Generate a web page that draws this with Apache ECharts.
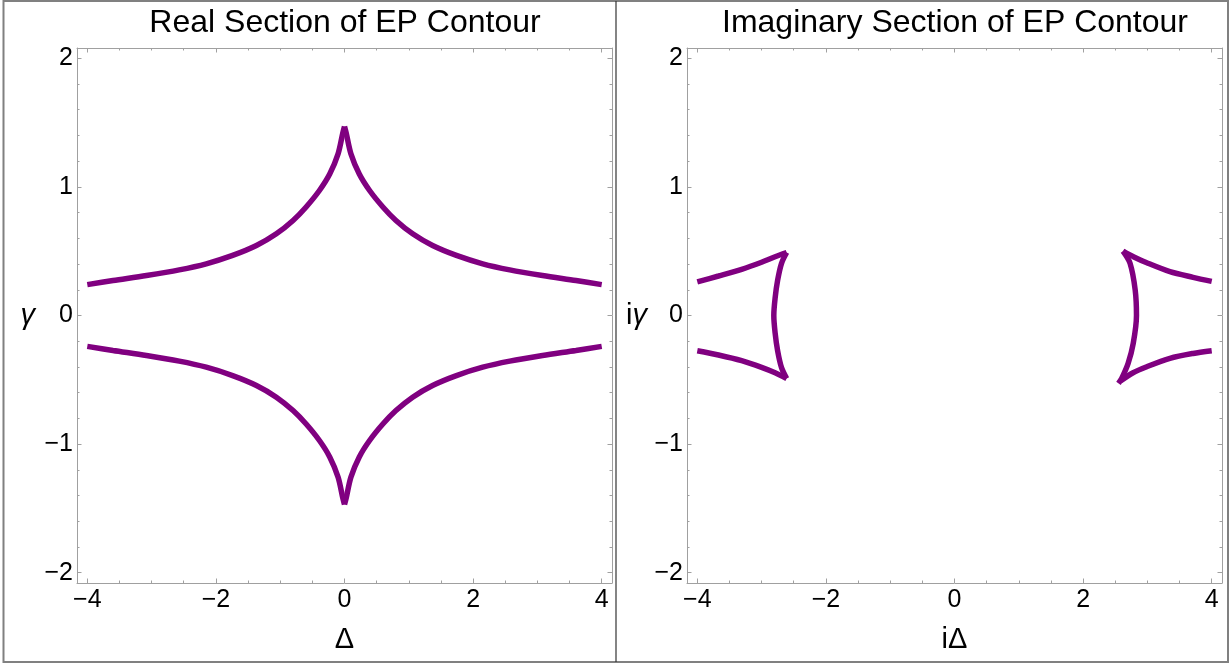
<!DOCTYPE html>
<html>
<head>
<meta charset="utf-8">
<script src="https://cdn.jsdelivr.net/npm/echarts@6/dist/echarts.min.js"></script>
<style>
html,body{margin:0;padding:0;background:#fff;}
#c{width:1231px;height:665px;}
</style>
</head>
<body>
<div id="c"></div>
<script>
// ---- tick labels / tick positions ----
const xMajor = [-4, -2, 0, 2, 4];
const xMinor = [-3.5, -3, -2.5, -1.5, -1, -0.5, 0.5, 1, 1.5, 2.5, 3, 3.5];
const yMajor = [-2, -1, 0, 1, 2];
const yMinor = [-1.8, -1.6, -1.4, -1.2, -0.8, -0.6, -0.4, -0.2, 0.2, 0.4, 0.6, 0.8, 1.2, 1.4, 1.6, 1.8];

// ---- Real section: [Δ, γ] ----
const realUpperLeft = [[-4.0,0.24],[-3.6,0.272],[-3.08,0.311],[-2.57,0.355],[-2.15,0.402],[-1.74,0.467],[-1.37,0.544],[-1.06,0.635],[-0.8,0.739],[-0.6,0.842],[-0.39,0.972],[-0.23,1.10],[-0.1,1.257],[-0.026,1.42],[0,1.47]];
const realUpperRight = [[0,1.47],[0.026,1.42],[0.1,1.257],[0.23,1.10],[0.39,0.972],[0.6,0.842],[0.8,0.739],[1.06,0.635],[1.37,0.544],[1.74,0.467],[2.15,0.402],[2.57,0.355],[3.08,0.311],[3.6,0.272],[4.0,0.24]];
const realLowerLeft = [[-4.0,-0.24],[-3.6,-0.272],[-3.08,-0.311],[-2.57,-0.355],[-2.15,-0.402],[-1.74,-0.467],[-1.37,-0.544],[-1.06,-0.635],[-0.8,-0.739],[-0.6,-0.842],[-0.39,-0.972],[-0.23,-1.10],[-0.1,-1.257],[-0.026,-1.42],[0,-1.47]];
const realLowerRight = [[0,-1.47],[0.026,-1.42],[0.1,-1.257],[0.23,-1.10],[0.39,-0.972],[0.6,-0.842],[0.8,-0.739],[1.06,-0.635],[1.37,-0.544],[1.74,-0.467],[2.15,-0.402],[2.57,-0.355],[3.08,-0.311],[3.6,-0.272],[4.0,-0.24]];

// ---- Imaginary section: [iΔ, iγ] ----
const imagLeftUpper = [[-4.0,0.262],[-3.67,0.307],[-3.31,0.359],[-3.0,0.414],[-2.79,0.457],[-2.61,0.49]];
const imagLeftInner = [[-2.61,0.49],[-2.69,0.406],[-2.75,0.276],[-2.79,0.134],[-2.81,0],[-2.79,-0.134],[-2.75,-0.276],[-2.69,-0.406],[-2.61,-0.49]];
const imagLeftLower = [[-2.61,-0.49],[-2.79,-0.445],[-3.0,-0.403],[-3.31,-0.351],[-3.67,-0.307],[-4.0,-0.274]];
const imagRightUpper = [[2.62,0.50],[2.79,0.455],[2.99,0.41],[3.35,0.341],[3.71,0.297],[4.0,0.265]];
const imagRightInner = [[2.62,0.50],[2.73,0.406],[2.81,0.198],[2.83,0],[2.78,-0.216],[2.70,-0.372],[2.60,-0.489],[2.55,-0.528]];
const imagRightLower = [[2.58,-0.51],[2.77,-0.447],[2.99,-0.398],[3.35,-0.333],[3.71,-0.295],[4.0,-0.274]];

const FONT = '"Liberation Sans", Arial, sans-serif';
const FRAME = '#a0a0a0';
const PURPLE = '#800080';
const X_MIN = -4.16, X_MAX = 4.16, Y_MIN = -2.08, Y_MAX = 2.08;

function fmt(v) { return v < 0 ? '\u2212' + Math.abs(v) : String(v); }

function xAxes(g, name, nameRich) {
  const base = { type: 'value', gridIndex: g, min: X_MIN, max: X_MAX, splitLine: { show: false } };
  return [
    Object.assign({}, base, {
      position: 'bottom',
      axisLine: { show: true, onZero: false, lineStyle: { color: FRAME, width: 1 } },
      axisTick: { show: true, inside: true, length: 4.5, customValues: xMajor, lineStyle: { color: FRAME } },
      axisLabel: { show: true, customValues: xMajor, formatter: fmt, color: '#000', fontSize: 25, fontFamily: FONT, margin: 5 },
      name: name, nameLocation: 'middle', nameGap: 42,
      nameTextStyle: { color: '#000', fontSize: 29, fontFamily: FONT, rich: nameRich }
    }),
    Object.assign({}, base, {
      position: 'bottom',
      axisLine: { show: false, onZero: false },
      axisTick: { show: true, inside: true, length: 2.5, customValues: xMinor, lineStyle: { color: FRAME } },
      axisLabel: { show: false }
    }),
    Object.assign({}, base, {
      position: 'top',
      axisLine: { show: true, onZero: false, lineStyle: { color: FRAME, width: 1 } },
      axisTick: { show: true, inside: true, length: 4.5, customValues: xMajor, lineStyle: { color: FRAME } },
      axisLabel: { show: false }
    }),
    Object.assign({}, base, {
      position: 'top',
      axisLine: { show: false, onZero: false },
      axisTick: { show: true, inside: true, length: 2.5, customValues: xMinor, lineStyle: { color: FRAME } },
      axisLabel: { show: false }
    })
  ];
}

function yAxes(g, name, nameRich, gap) {
  const base = { type: 'value', gridIndex: g, min: Y_MIN, max: Y_MAX, splitLine: { show: false } };
  return [
    Object.assign({}, base, {
      position: 'left',
      axisLine: { show: true, onZero: false, lineStyle: { color: FRAME, width: 1 } },
      axisTick: { show: true, inside: true, length: 4.5, customValues: yMajor, lineStyle: { color: FRAME } },
      axisLabel: { show: true, customValues: yMajor, formatter: fmt, color: '#000', fontSize: 25, fontFamily: FONT, margin: 4 },
      name: name, nameLocation: 'middle', nameGap: gap, nameRotate: 0,
      nameTextStyle: { color: '#000', fontSize: 29, fontFamily: FONT, rich: nameRich }
    }),
    Object.assign({}, base, {
      position: 'left',
      axisLine: { show: false, onZero: false },
      axisTick: { show: true, inside: true, length: 2.5, customValues: yMinor, lineStyle: { color: FRAME } },
      axisLabel: { show: false }
    }),
    Object.assign({}, base, {
      position: 'right',
      axisLine: { show: true, onZero: false, lineStyle: { color: FRAME, width: 1 } },
      axisTick: { show: true, inside: true, length: 4.5, customValues: yMajor, lineStyle: { color: FRAME } },
      axisLabel: { show: false }
    }),
    Object.assign({}, base, {
      position: 'right',
      axisLine: { show: false, onZero: false },
      axisTick: { show: true, inside: true, length: 2.5, customValues: yMinor, lineStyle: { color: FRAME } },
      axisLabel: { show: false }
    })
  ];
}

function curve(data, axisIdx) {
  return {
    type: 'line', data: data, xAxisIndex: axisIdx, yAxisIndex: axisIdx,
    showSymbol: false, symbol: 'none', smooth: 0.3, silent: true,
    lineStyle: { color: PURPLE, width: 5.5 }, z: 3
  };
}

const italicRich = { it: { fontStyle: 'italic', fontSize: 29, fontFamily: FONT, color: '#000' },
                     up: { fontSize: 29, fontFamily: FONT, color: '#000' } };

const option = {
  animation: false,
  backgroundColor: '#fff',
  grid: [
    { left: 77, top: 48, width: 535, height: 535, containLabel: false, outerBoundsMode: 'none' },
    { left: 687, top: 48, width: 535, height: 535, containLabel: false, outerBoundsMode: 'none' }
  ],
  xAxis: [].concat(xAxes(0, 'Δ', italicRich), xAxes(1, '{up|iΔ}', italicRich)),
  yAxis: [].concat(yAxes(0, '{it|γ}', italicRich, 42), yAxes(1, '{up|i}{it|γ}', italicRich, 40)),
  series: [
    curve(realUpperLeft, 0), curve(realUpperRight, 0),
    curve(realLowerLeft, 0), curve(realLowerRight, 0),
    curve(imagLeftUpper, 4), curve(imagLeftInner, 4), curve(imagLeftLower, 4),
    curve(imagRightUpper, 4), curve(imagRightInner, 4), curve(imagRightLower, 4)
  ],
  graphic: [
    { type: 'rect', shape: { x: 3.5, y: 1, width: 1224.5, height: 661 }, style: { fill: 'none', stroke: '#808080', lineWidth: 2 }, silent: true },
    { type: 'line', shape: { x1: 616, y1: 1, x2: 616, y2: 662 }, style: { stroke: '#333', lineWidth: 1.2 }, silent: true },
    { type: 'text', x: 345, y: 23, style: { text: 'Real Section of EP Contour', font: '32px ' + FONT, fill: '#000', textAlign: 'center', textVerticalAlign: 'middle' }, silent: true },
    { type: 'text', x: 955, y: 23, style: { text: 'Imaginary Section of EP Contour', font: '32px ' + FONT, fill: '#000', textAlign: 'center', textVerticalAlign: 'middle' }, silent: true }
  ]
};

const chart = echarts.init(document.getElementById('c'), null, { renderer: 'canvas' });
chart.setOption(option);
</script>
</body>
</html>
